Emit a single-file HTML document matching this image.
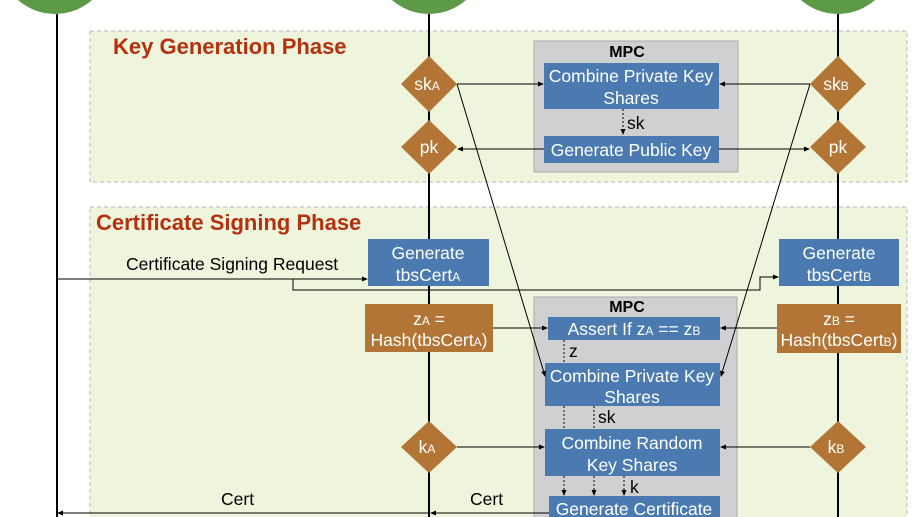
<!DOCTYPE html>
<html><head><meta charset="utf-8"><style>
body{margin:0;width:918px;height:517px;overflow:hidden;background:#fff}
svg{display:block}
text{font-family:"Liberation Sans",sans-serif}
</style></head><body>
<svg width="918" height="517" viewBox="0 0 918 517">
<defs>
<marker id="a" markerWidth="6" markerHeight="6" refX="5" refY="3" orient="auto" markerUnits="userSpaceOnUse"><path d="M0,0.5 L6,3 L0,5.5z" fill="#000"/></marker>
</defs>
<rect x="90" y="31" width="817" height="151" fill="#eff4dc" stroke="#b8b8b8" stroke-dasharray="4,3"/>
<rect x="90" y="207" width="817" height="320" fill="#eff4dc" stroke="#b8b8b8" stroke-dasharray="4,3"/>
<circle cx="55" cy="-42" r="56" fill="#5c9a48"/>
<circle cx="429" cy="-42" r="56" fill="#5c9a48"/>
<circle cx="838" cy="-42" r="56" fill="#5c9a48"/>
<line x1="57" y1="14" x2="57" y2="517" stroke="#000" stroke-width="2"/>
<line x1="429" y1="14" x2="429" y2="517" stroke="#000" stroke-width="2"/>
<line x1="838" y1="14" x2="838" y2="517" stroke="#000" stroke-width="2"/>
<text x="113" y="54" font-size="22" font-weight="bold" fill="#b5300e">Key Generation Phase</text>
<text x="96" y="230" font-size="22" font-weight="bold" fill="#b5300e">Certificate Signing Phase</text>
<rect x="534" y="41" width="204" height="131" fill="#d0d0d2" stroke="#aaa"/>
<text x="627" y="57" font-size="16" font-weight="bold" text-anchor="middle">MPC</text>
<rect x="534" y="297" width="203" height="230" fill="#d0d0d2" stroke="#aaa"/>
<text x="627" y="312" font-size="16" font-weight="bold" text-anchor="middle">MPC</text>
<g fill="#4a7aaf">
<rect x="544" y="63" width="175" height="46"/>
<rect x="544" y="136" width="175" height="27"/>
<rect x="548" y="317" width="172" height="23"/>
<rect x="545" y="363" width="175" height="43"/>
<rect x="545" y="429" width="175" height="47"/>
<rect x="549" y="496" width="171" height="30"/>
<rect x="368" y="239" width="121" height="47"/>
<rect x="779" y="239" width="120" height="47"/>
</g>
<g fill="#b27536">
<rect x="365" y="304" width="128" height="48"/>
<rect x="777" y="304" width="124" height="49"/>
<path d="M429,56 L457,84 L429,112 L401,84z"/>
<path d="M429,120 L457,147 L429,174 L401,147z"/>
<path d="M838,56 L866,84 L838,112 L810,84z"/>
<path d="M838,120 L866,147 L838,174 L810,147z"/>
<path d="M429,421 L457,447 L429,473 L401,447z"/>
<path d="M838,421 L866,447 L838,473 L810,447z"/>
</g>
<g fill="#fff" font-size="17.5" text-anchor="middle">
<text x="631" y="82">Combine Private Key</text><text x="631" y="104">Shares</text>
<text x="631" y="156">Generate Public Key</text>
<text x="634" y="335">Assert If z<tspan font-size="12">A</tspan> == z<tspan font-size="12">B</tspan></text>
<text x="632" y="382">Combine Private Key</text><text x="632" y="403">Shares</text>
<text x="632" y="449">Combine Random</text><text x="632" y="471">Key Shares</text>
<text x="634" y="515">Generate Certificate</text>
<text x="428" y="259">Generate</text><text x="428" y="281">tbsCert<tspan font-size="12">A</tspan></text>
<text x="839" y="259">Generate</text><text x="839" y="281">tbsCert<tspan font-size="12">B</tspan></text>
<text x="429" y="325">z<tspan font-size="12">A</tspan> =</text><text x="429" y="346">Hash(tbsCert<tspan font-size="12">A</tspan>)</text>
<text x="839" y="325">z<tspan font-size="12">B</tspan> =</text><text x="839" y="346">Hash(tbsCert<tspan font-size="12">B</tspan>)</text>
<text x="427" y="90">sk<tspan font-size="12">A</tspan></text>
<text x="429" y="153">pk</text>
<text x="836" y="90">sk<tspan font-size="12">B</tspan></text>
<text x="838" y="153">pk</text>
<text x="427" y="453">k<tspan font-size="12">A</tspan></text>
<text x="836" y="453">k<tspan font-size="12">B</tspan></text>
</g>
<g stroke="#000" stroke-width="1" fill="none" marker-end="url(#a)">
<line x1="457" y1="84" x2="543" y2="84"/>
<line x1="810" y1="84" x2="720" y2="84"/>
<line x1="544" y1="149" x2="458" y2="149"/>
<line x1="719" y1="149" x2="809" y2="149"/>
<line x1="457" y1="84" x2="545" y2="376"/>
<line x1="810" y1="84" x2="721" y2="376"/>
<line x1="57" y1="279" x2="367" y2="279"/>
<polyline points="293,279 293,290 760,290 760,277 778,277"/>
<line x1="493" y1="328" x2="547" y2="328"/>
<line x1="777" y1="328" x2="721" y2="328"/>
<line x1="457" y1="447" x2="544" y2="447"/>
<line x1="810" y1="447" x2="721" y2="447"/>
<line x1="549" y1="513" x2="431" y2="513"/>
<line x1="429" y1="513" x2="58" y2="513"/>
</g>
<g stroke="#000" stroke-width="1" stroke-dasharray="2,2" fill="none">
<line x1="623" y1="109" x2="623" y2="134" marker-end="url(#a)"/>
<line x1="564" y1="340" x2="564" y2="363"/>
<line x1="564" y1="406" x2="564" y2="429"/>
<line x1="594" y1="406" x2="594" y2="429"/>
<line x1="564" y1="476" x2="564" y2="495" marker-end="url(#a)"/>
<line x1="594" y1="476" x2="594" y2="495" marker-end="url(#a)"/>
<line x1="624" y1="476" x2="624" y2="495" marker-end="url(#a)"/>
</g>
<g font-size="17.5" fill="#000">
<text x="627" y="129">sk</text>
<text x="569" y="357">z</text>
<text x="598" y="423">sk</text>
<text x="630" y="493">k</text>
<text x="126" y="270">Certificate Signing Request</text>
<text x="221" y="505">Cert</text>
<text x="470" y="505">Cert</text>
</g>
</svg>
</body></html>
